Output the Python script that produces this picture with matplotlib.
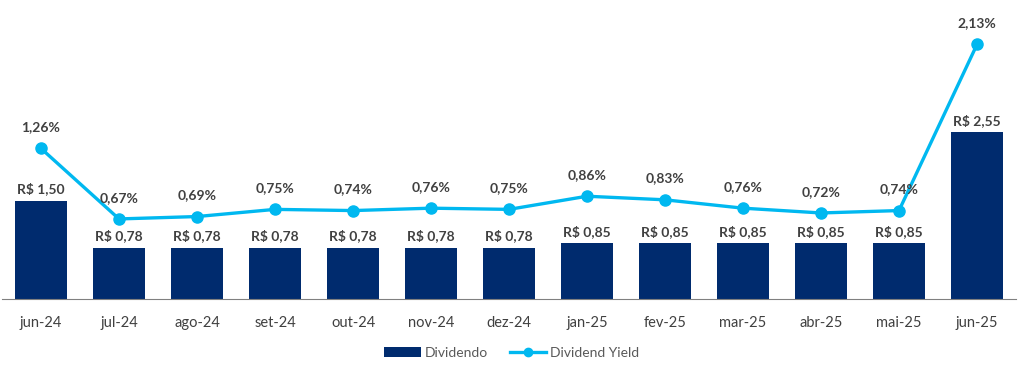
import matplotlib.pyplot as plt
from matplotlib.lines import Line2D

meses = ["jun-24", "jul-24", "ago-24", "set-24", "out-24", "nov-24", "dez-24",
         "jan-25", "fev-25", "mar-25", "abr-25", "mai-25", "jun-25"]
dividendo = [1.50, 0.78, 0.78, 0.78, 0.78, 0.78, 0.78, 0.85, 0.85, 0.85, 0.85, 0.85, 2.55]
dy = [1.26, 0.67, 0.69, 0.75, 0.74, 0.76, 0.75, 0.86, 0.83, 0.76, 0.72, 0.74, 2.13]

plt.rcParams["font.family"] = ["Lato", "DejaVu Sans"]
text_color = "#404040"
bar_color = "#002B6E"
line_color = "#00B8F0"

fig = plt.figure(figsize=(10.24, 3.65), dpi=100)
ax = fig.add_axes([2 / 1024, 66 / 365, 1014 / 1024, 288 / 365])
ax2 = ax.twinx()

x = list(range(len(meses)))
bars = ax.bar(x, dividendo, width=0.667, color=bar_color, label="Dividendo", zorder=2)
ax2.plot(x, dy, color=line_color, lw=2.4, marker="o", markersize=8, zorder=3)

ax.set_xlim(-0.5, len(meses) - 0.5)
ax.set_ylim(0, 288 / 65.3)
ax2.set_ylim(0, 288 / 119.5)

for i, v in enumerate(dividendo):
    ax.annotate(f"R$ {v:.2f}".replace(".", ","), (i, v), xytext=(0, 4),
                textcoords="offset points", ha="center", va="bottom",
                fontsize=10, fontweight="bold", color=text_color)

for i, v in enumerate(dy):
    ax2.annotate(f"{v:.2f}%".replace(".", ","), (i, v), xytext=(0, 11),
                 textcoords="offset points", ha="center", va="bottom",
                 fontsize=10, fontweight="bold", color=text_color)

for a in (ax, ax2):
    for s in ("top", "left", "right"):
        a.spines[s].set_visible(False)
    a.set_yticks([])
ax2.spines["bottom"].set_visible(False)
ax.spines["bottom"].set_color("#808080")

ax.set_xticks(x)
ax.set_xticklabels(meses, fontsize=10.5, color=text_color)
ax.tick_params(axis="x", length=0, pad=12)

line_handle = Line2D([], [], color=line_color, lw=2.4, marker="o", markersize=6)
fig.legend([bars, line_handle], ["Dividendo", "Dividend Yield"], loc="center",
           bbox_to_anchor=(0.5, 12 / 365), ncol=2, frameon=False, fontsize=10,
           labelcolor="#595959", handlelength=2.6, columnspacing=1.6, handletextpad=0.3)

fig.savefig("out.png", dpi=100)
